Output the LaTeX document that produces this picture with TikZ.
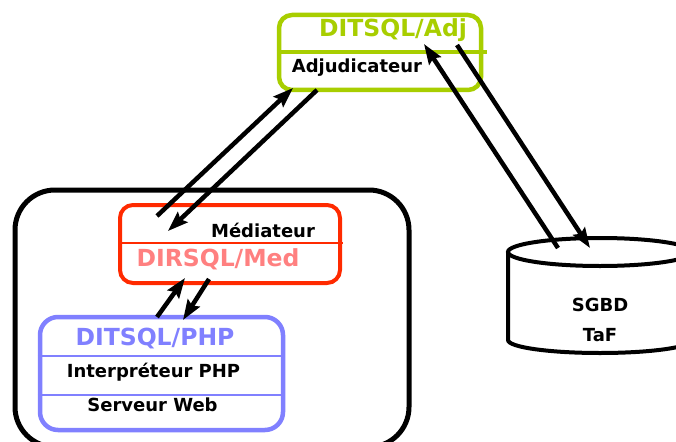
\documentclass[tikz,border=0pt]{standalone}
\usepackage{fontspec}
\setmainfont{DejaVu Sans}
\usetikzlibrary{arrows.meta}
\definecolor{adjgreen}{RGB}{168,206,0}
\definecolor{medred}{RGB}{255,42,0}
\definecolor{medpink}{RGB}{255,128,128}
\definecolor{phpblue}{RGB}{128,128,255}
\tikzset{
  box/.style={draw, rounded corners=13pt, inner sep=0pt, fill=white},
  lbl/.style={anchor=base, inner sep=0pt, font=\bfseries\fontsize{18}{20}\selectfont},
  clbl/.style={anchor=base, inner sep=0pt, font=\bfseries\fontsize{23.5}{26}\selectfont},
  link/.style={line width=4.5pt, -{Stealth[length=20pt,width=14pt,inset=3pt]}},
  divider/.style={line width=1.2pt},
}
\begin{document}
\begin{tikzpicture}[x=1pt,y=-1pt]
\useasboundingbox (0,0) rectangle (676,441);
\fill[white] (0,0) rectangle (676,441);

% system box
\node[box, line width=5pt, rounded corners=40pt, minimum width=394pt, minimum height=257pt] (sys) at (212,318.5) {};

% database cylinder
\draw[line width=4pt, fill=white] (508,252) -- (508,340)
  arc[start angle=180, end angle=360, x radius=92pt, y radius=13pt] -- (692,252);
\draw[line width=4pt] (600,252) ellipse [x radius=92pt, y radius=14pt];
\node[lbl] (sgbd) at (600,311.5) {SGBD};
\node[lbl] (taf) at (600,341.5) {TaF};

% Adjudicateur box
\node[box, draw=adjgreen, line width=4.5pt, minimum width=202pt, minimum height=75pt] (adj) at (380,52.5) {};
\draw[adjgreen, line width=3.5pt] (adj.west |- 0,52) -- (487,52);
\node[clbl, text=adjgreen] (adjt) at (393,37) {DITSQL/Adj};
\node[lbl] (adjl) at (357,73) {Adjudicateur};

% Mediateur box
\node[box, draw=medred, line width=4pt, minimum width=220pt, minimum height=78pt] (med) at (230,244) {};
\draw[medred, divider] (med.west |- 0,243) -- (343,243);
\node[lbl] (medl) at (263,237) {Médiateur};
\node[clbl, text=medpink] (medt) at (218,266) {DIRSQL/Med};

% PHP box
\node[box, draw=phpblue, line width=4.5pt, minimum width=243pt, minimum height=113pt, rounded corners=18pt] (php) at (161.5,373.5) {};
\draw[phpblue, divider] (php.west |- 0,356) -- (php.east |- 0,356);
\draw[phpblue, divider] (php.west |- 0,395) -- (php.east |- 0,395);
\node[clbl, text=phpblue] (phpt) at (155,345) {DITSQL/PHP};
\node[lbl] (phpi) at (153.5,377) {Interpréteur PHP};
\node[lbl] (phps) at (152.5,411.5) {Serveur Web};

% connector end points
\coordinate (m1) at (157,216);
\coordinate (a1) at (293,88);
\coordinate (a2) at (317,90);
\coordinate (m2) at (168,231);
\coordinate (p1) at (157,317);
\coordinate (m3) at (185,278);
\coordinate (m4) at (209,279);
\coordinate (p2) at (183,320);
\coordinate (d1) at (558,248);
\coordinate (a3) at (424,44);
\coordinate (a4) at (457,45);
\coordinate (d2) at (590,248);

\draw[link] (m1) -- (a1);
\draw[link] (a2) -- (m2);
\draw[link] (p1) -- (m3);
\draw[link] (m4) -- (p2);
\draw[link] (d1) -- (a3);
\draw[link] (a4) -- (d2);
\end{tikzpicture}
\end{document}
